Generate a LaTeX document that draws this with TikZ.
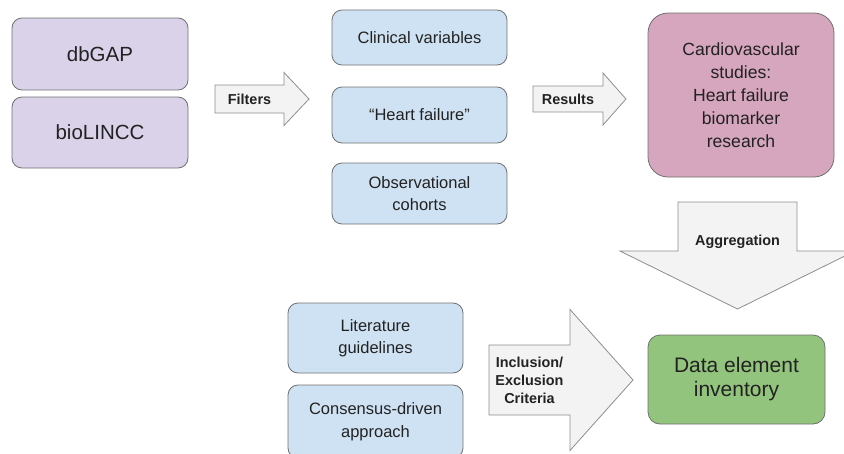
\documentclass[tikz,border=0pt]{standalone}
\usepackage{fontspec}
\setmainfont{Liberation Sans}
\usetikzlibrary{positioning}
\definecolor{lilac}{HTML}{D9D2E9}
\definecolor{paleblue}{HTML}{CFE2F3}
\definecolor{rose}{HTML}{D5A6BD}
\definecolor{leaf}{HTML}{93C47D}
\definecolor{arrowfill}{HTML}{F3F3F3}
\definecolor{boxedge}{HTML}{707070}
\definecolor{ink}{HTML}{222222}

\begin{document}
\begin{tikzpicture}
  [x=1pt,y=-1pt,
    box/.style={draw=boxedge,line width=0.8pt,rounded corners=10pt,
      align=center,inner sep=0pt,text=ink},
    midtext/.style={font=\fontsize{16.5}{22.5}\selectfont},
    blockarrow/.style={draw=boxedge!80,line width=0.8pt,fill=arrowfill,line join=miter},
    arrowlabel/.style={align=center,text=ink,
      font=\fontsize{14.4}{18}\selectfont\bfseries}]
  \useasboundingbox (0,0) rectangle (844,453);
  \clip (0,0) rectangle (844,453);

  % sources
  \node[box,fill=lilac,minimum width=176pt,minimum height=72pt,
    font=\fontsize{20.5}{24}\selectfont] (dbgap) at (100,54) {dbGAP};
  \node[box,fill=lilac,minimum width=176pt,minimum height=71pt,
    font=\fontsize{20.5}{24}\selectfont] (biolincc) at (100,132.5) {bioLINCC};

  % filters
  \node[box,midtext,fill=paleblue,minimum width=175pt,minimum height=55pt]
    (clinical) at (419.5,37.5) {Clinical variables};
  \node[box,midtext,fill=paleblue,minimum width=175pt,minimum height=56pt]
    (hf) at (419.5,115) {“Heart failure”};
  \node[box,midtext,fill=paleblue,minimum width=175pt,minimum height=61pt]
    (cohorts) at (419.5,193.5) {Observational\\cohorts};

  % results
  \node[box,fill=rose,rounded corners=20pt,minimum width=186pt,minimum height=164pt,
    font=\fontsize{17.6}{23}\selectfont]
    (cardio) at (741,95) {Cardiovascular\\studies:\\Heart failure\\biomarker\\research};
  \node[box,fill=leaf,rounded corners=12pt,minimum width=177pt,minimum height=89pt,
    font=\fontsize{21}{24}\selectfont]
    (inventory) at (736.5,379.5) {Data element\\inventory};

  % criteria
  \node[box,midtext,fill=paleblue,minimum width=175pt,minimum height=70pt]
    (literature) at (375.5,338) {Literature\\guidelines};
  \node[box,midtext,fill=paleblue,minimum width=175pt,minimum height=73pt]
    (consensus) at (375.5,421.5) {Consensus-driven\\approach};

  % block arrows
  \draw[blockarrow] (215,85) -- (284,85) -- (284,72.5) -- (309,99)
    -- (284,125.5) -- (284,113) -- (215,113) -- cycle;
  \node[arrowlabel] (filters) at (249.5,99) {Filters};

  \draw[blockarrow] (533,86) -- (603,86) -- (603,73) -- (626,99)
    -- (603,125) -- (603,112) -- (533,112) -- cycle;
  \node[arrowlabel] (results) at (568,99) {Results};

  \draw[blockarrow] (678,202) -- (797,202) -- (797,251) -- (855,251)
    -- (737.5,309) -- (620,251) -- (678,251) -- cycle;
  \node[arrowlabel] (aggregation) at (737.5,242) {Aggregation};

  \draw[blockarrow] (489,345) -- (570,345) -- (570,309.5) -- (633,380)
    -- (570,450.5) -- (570,415) -- (489,415) -- cycle;
  \node[arrowlabel] (criteria) at (529.5,380) {Inclusion/\\Exclusion\\Criteria};
\end{tikzpicture}
\end{document}
